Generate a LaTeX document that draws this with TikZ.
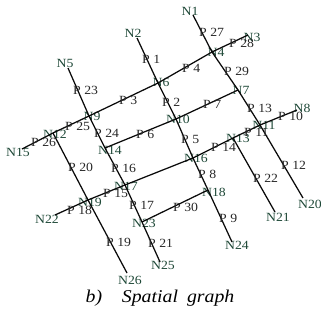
\documentclass[tikz,border=0pt]{standalone}
\usepackage{fontspec}
\setmainfont{Liberation Serif}[FakeStretch=1.1]
\definecolor{nodeGreen}{RGB}{30,72,55}
\definecolor{roadBlack}{RGB}{10,10,10}
\tikzset{
    junc/.style={inner sep=0pt, minimum size=0pt},
    nlab/.style={inner sep=0.5pt, text=nodeGreen,
        font=\fontsize{12.5}{14}\selectfont},
    plab/.style={anchor=west, xshift=-4.5pt, inner sep=0.5pt, text=black!85,
        font=\fontsize{12.5}{14}\selectfont},
    road/.style={line width=1.25pt, roadBlack, line join=round},
    caption/.style={font=\fontsize{18}{20}\selectfont\itshape},
}

\begin{document}
\begin{tikzpicture}[x=1pt, y=-1pt]
\useasboundingbox (0,0) rectangle (321,322);

% Junctions
\node[junc, label={[nlab, xshift=-3pt, yshift=4pt]center:N1}] (n1) at (193,15) {};
\node[junc, label={[nlab, xshift=-4pt, yshift=5pt]center:N2}] (n2) at (137,38) {};
\node[junc, label={[nlab, xshift=4pt, yshift=-2pt]center:N3}] (n3) at (248,35) {};
\node[junc, label={[nlab, xshift=4pt]center:N4}] (n4) at (212,52) {};
\node[junc, label={[nlab, xshift=-3pt, yshift=5pt]center:N5}] (n5) at (68,68) {};
\node[junc, label={[nlab, xshift=3pt, yshift=1pt]center:N6}] (n6) at (158,83) {};
\node[junc, label={[nlab, xshift=3pt]center:N7}] (n7) at (238,90) {};
\node[junc, label={[nlab, xshift=5pt, yshift=2pt]center:N8}] (n8) at (297,110) {};
\node[junc, label={[nlab, xshift=3pt]center:N9}] (n9) at (89,116) {};
\node[junc, label={[nlab, xshift=2pt]center:N10}] (n10) at (176,119) {};
\node[junc, label={[nlab, xshift=4pt]center:N11}] (n11) at (260,125) {};
\node[junc, label={[nlab, xshift=2pt, yshift=-1pt]center:N12}] (n12) at (53,133) {};
\node[junc, label={[nlab, xshift=5pt]center:N13}] (n13) at (233,138) {};
\node[junc, label={[nlab, xshift=5pt, yshift=-2pt]center:N14}] (n14) at (105,148) {};
\node[junc, label={[nlab, xshift=-4pt, yshift=-3pt]center:N15}] (n15) at (22,149) {};
\node[junc, label={[nlab, xshift=3pt]center:N16}] (n16) at (193,158) {};
\node[junc, label={[nlab, xshift=1pt, yshift=-1pt]center:N17}] (n17) at (125,185) {};
\node[junc, label={[nlab, xshift=6pt, yshift=-2pt]center:N18}] (n18) at (208,190) {};
\node[junc, label={[nlab, xshift=2pt, yshift=-2pt]center:N19}] (n19) at (88,200) {};
\node[junc, label={[nlab, xshift=7pt, yshift=-6pt]center:N20}] (n20) at (303,198) {};
\node[junc, label={[nlab, xshift=3pt, yshift=-5pt]center:N21}] (n21) at (275,212) {};
\node[junc, label={[nlab, xshift=-8pt, yshift=-4pt]center:N22}] (n22) at (55,215) {};
\node[junc, label={[nlab, xshift=2pt, yshift=-1pt]center:N23}] (n23) at (142,222) {};
\node[junc, label={[nlab, xshift=5pt, yshift=-3pt]center:N24}] (n24) at (232,242) {};
\node[junc, label={[nlab, xshift=3pt, yshift=-3pt]center:N25}] (n25) at (160,262) {};
\node[junc, label={[nlab, xshift=3pt, yshift=-7pt]center:N26}] (n26) at (127,273) {};

% Roads running down to the right
\draw[road] (n1.center) -- (n4.center) -- (n7.center) -- (n11.center) -- (n20.center);
\draw[road] (n2.center) -- (n6.center) -- (n10.center) -- (n16.center) -- (n18.center) -- (n24.center);
\draw[road] (n5.center) -- (n9.center) -- (n14.center) -- (n17.center) -- (n23.center) -- (n25.center);
\draw[road] (n12.center) -- (n19.center) -- (n26.center);
\draw[road] (n13.center) -- (n21.center);

% Roads running up to the right
\draw[road] (n15.center) -- (n12.center) -- (n9.center) -- (n6.center) -- (n4.center) -- (n3.center);
\draw[road] (n14.center) -- (n10.center) -- (n7.center);
\draw[road] (n17.center) -- (n16.center) -- (n13.center) -- (n11.center) -- (n8.center);
\draw[road] (n22.center) -- (n19.center) -- (n17.center);
\draw[road] (n23.center) -- (n18.center);

% Path labels
\node[plab] (p1) at (146,59) {P 1};
\node[plab] (p2) at (166,102) {P 2};
\node[plab] (p3) at (123,100) {P 3};
\node[plab] (p4) at (186,68) {P 4};
\node[plab] (p5) at (185,139) {P 5};
\node[plab] (p6) at (140,134) {P 6};
\node[plab] (p7) at (207,104) {P 7};
\node[plab] (p8) at (202,174) {P 8};
\node[plab] (p9) at (223,218) {P 9};
\node[plab] (p10) at (282,116) {P 10};
\node[plab] (p11) at (248,132) {P 11};
\node[plab] (p12) at (285,165) {P 12};
\node[plab] (p13) at (251,108) {P 13};
\node[plab] (p14) at (215,147) {P 14};
\node[plab] (p15) at (107,193) {P 15};
\node[plab] (p16) at (115,168) {P 16};
\node[plab] (p17) at (133,205) {P 17};
\node[plab] (p18) at (71,210) {P 18};
\node[plab] (p19) at (110,242) {P 19};
\node[plab] (p20) at (72,167) {P 20};
\node[plab] (p21) at (152,243) {P 21};
\node[plab] (p22) at (257,178) {P 22};
\node[plab] (p23) at (77,90) {P 23};
\node[plab] (p24) at (98,133) {P 24};
\node[plab] (p25) at (69,126) {P 25};
\node[plab] (p26) at (35,142) {P 26};
\node[plab] (p27) at (203,32) {P 27};
\node[plab] (p28) at (233,43) {P 28};
\node[plab] (p29) at (228,71) {P 29};
\node[plab] (p30) at (177,207) {P 30};

% Caption
\node[caption] (cap) at (160,298) {b)\hspace{1.1em}Spatial\hspace{0.5em}graph};

\end{tikzpicture}
\end{document}
